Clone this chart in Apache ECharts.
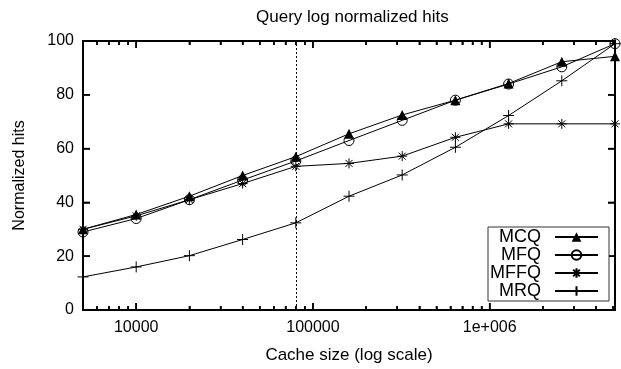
<!DOCTYPE html>
<html>
<head>
<meta charset="utf-8">
<script src="https://cdn.jsdelivr.net/npm/echarts@6/dist/echarts.min.js"></script>
<style>
html,body{margin:0;padding:0;background:#fff;}
#chart{width:621px;height:369px;}
</style>
</head>
<body>
<div id="chart"></div>
<script>
// ---- data ----
var cacheSizes = [5000, 10000, 20000, 40000, 80000, 160000, 320000, 640000, 1280000, 2560000, 5120000];
var mcq  = [30, 35.5, 42.3, 50, 57, 65.5, 72.5, 78, 84.2, 92.3, 94.3];
var mfq  = [29, 34, 41, 48.3, 55.4, 63, 70.5, 78, 84, 90.4, 99];
var mffq = [30, 35, 41, 47, 53.4, 54.5, 57.2, 64.2, 69.2, 69.2, 69.2];
var mrq  = [12.3, 16, 20.2, 26.2, 32.4, 42.3, 50.2, 60.5, 72.3, 85.2, 99];
var seriesNames = ['MCQ', 'MFQ', 'MFFQ', 'MRQ'];
var xMajorTicks = [10000, 100000, 1000000];
var xMajorLabels = ['10000', '100000', '1e+006'];
var xMinorTicks = [6000, 7000, 8000, 9000,
  20000, 30000, 40000, 50000, 60000, 70000, 80000, 90000,
  200000, 300000, 400000, 500000, 600000, 700000, 800000, 900000,
  2000000, 3000000, 4000000, 5000000];
var yTicks = [20, 40, 60, 80];
var markerSize = 80000;

var FONT = '"Liberation Sans", Arial, sans-serif';
var X_MIN = 5000, X_MAX = 5120000, Y_MIN = 0, Y_MAX = 100;
var MAJOR_LEN = 7, MINOR_LEN = 4;

function pairs(ys) {
  return cacheSizes.map(function (x, i) { return [x, ys[i]]; });
}

function xAxisDef(position, tickValues, tickLen, withLabels) {
  var ax = {
    type: 'log', logBase: 10, min: X_MIN, max: X_MAX, position: position,
    axisLine: { show: true, onZero: false, lineStyle: { color: '#000', width: 2 } },
    axisTick: { show: true, inside: true, length: tickLen, customValues: tickValues,
      lineStyle: { color: '#000', width: 1.5 } },
    splitLine: { show: false },
    minorTick: { show: false },
    axisLabel: { show: false }
  };
  if (withLabels) {
    ax.axisLabel = {
      show: true, customValues: xMajorTicks, margin: 10,
      fontFamily: FONT, fontSize: 16, color: '#000',
      formatter: function (v) {
        for (var i = 0; i < xMajorTicks.length; i++) {
          if (Math.abs(v - xMajorTicks[i]) / xMajorTicks[i] < 1e-6) return xMajorLabels[i];
        }
        return '';
      }
    };
    ax.name = 'Cache size (log scale)';
    ax.nameLocation = 'middle';
    ax.nameGap = 37;
    ax.nameTextStyle = { fontFamily: FONT, fontSize: 17, color: '#000' };
  }
  return ax;
}

function yAxisDef(position, withLabels) {
  var ax = {
    type: 'value', min: Y_MIN, max: Y_MAX, interval: 20, position: position,
    axisLine: { show: true, lineStyle: { color: '#000', width: 2 } },
    axisTick: { show: true, inside: true, length: MAJOR_LEN, lineStyle: { color: '#000', width: 1.5 } },
    splitLine: { show: false },
    axisLabel: { show: false }
  };
  if (withLabels) {
    ax.axisLabel = { show: true, margin: 9, fontFamily: FONT, fontSize: 16, color: '#000' };
    ax.name = 'Normalized hits';
    ax.nameLocation = 'middle';
    ax.nameGap = 55;
    ax.nameTextStyle = { fontFamily: FONT, fontSize: 16, color: '#000' };
  }
  return ax;
}

var plusPath = 'path://M5,0L5,10M0,5L10,5';
var starPath = 'path://M5,0L5,10M0,5L10,5M1.5,1.5L8.5,8.5M8.5,1.5L1.5,8.5';
var circlePath = 'path://M10,5A5,5,0,1,1,0,5A5,5,0,1,1,10,5Z';

function lineSeries(name, ys, symbol, size, filled) {
  return {
    name: name, type: 'line', xAxisIndex: 0, yAxisIndex: 0,
    data: pairs(ys),
    symbol: symbol, symbolSize: size, showAllSymbol: true,
    lineStyle: { color: '#000', width: 1 },
    itemStyle: filled ? { color: '#000' } : { color: 'transparent', borderColor: '#000', borderWidth: 1 },
    emphasis: { disabled: true },
    z: 3
  };
}

var series = [
  lineSeries(seriesNames[0], mcq, 'triangle', 10, true),
  lineSeries(seriesNames[1], mfq, circlePath, 10, false),
  lineSeries(seriesNames[2], mffq, starPath, 10, false),
  lineSeries(seriesNames[3], mrq, plusPath, 11, false)
];
series[0].markLine = {
  silent: true, symbol: ['none', 'none'], label: { show: false },
  lineStyle: { color: '#000', width: 1, type: [2, 2] },
  data: [{ xAxis: markerSize }]
};

// inward tick marks on all four borders, drawn through the axes' own scales
var tickStyle = { stroke: '#000', lineWidth: 1.5 };
var xTickData = xMajorTicks.map(function (v) { return [v, 1]; })
  .concat(xMinorTicks.map(function (v) { return [v, 0]; }));
series.push({
  type: 'custom', name: 'xticks', silent: true, clip: false, z: 5,
  xAxisIndex: 0, yAxisIndex: 0,
  data: xTickData,
  encode: { x: 0 },
  renderItem: function (params, api) {
    var v = api.value(0);
    var len = api.value(1) ? MAJOR_LEN : MINOR_LEN;
    var b = api.coord([v, Y_MIN]);
    var t = api.coord([v, Y_MAX]);
    return { type: 'group', children: [
      { type: 'line', shape: { x1: b[0], y1: b[1], x2: b[0], y2: b[1] - len }, style: tickStyle },
      { type: 'line', shape: { x1: t[0], y1: t[1], x2: t[0], y2: t[1] + len }, style: tickStyle }
    ] };
  }
});
series.push({
  type: 'custom', name: 'yticks', silent: true, clip: false, z: 5,
  xAxisIndex: 0, yAxisIndex: 0,
  data: yTicks.map(function (v) { return [X_MIN, v]; }),
  renderItem: function (params, api) {
    var v = api.value(1);
    var l = api.coord([X_MIN, v]);
    var r = api.coord([X_MAX, v]);
    return { type: 'group', children: [
      { type: 'line', shape: { x1: l[0], y1: l[1], x2: l[0] + MAJOR_LEN, y2: l[1] }, style: tickStyle },
      { type: 'line', shape: { x1: r[0], y1: r[1], x2: r[0] - MAJOR_LEN, y2: r[1] }, style: tickStyle }
    ] };
  }
});

var chart = echarts.init(document.getElementById('chart'), null, { renderer: 'canvas' });
chart.setOption({
  animation: false,
  backgroundColor: '#fff',
  title: {
    text: 'Query log normalized hits', left: 251, top: 4,
    textStyle: { fontFamily: FONT, fontSize: 17, fontWeight: 'normal', color: '#000' }
  },
  grid: { left: 83, right: 6, top: 41, bottom: 59, containLabel: false },
  xAxis: [
    xAxisDef('bottom', xMajorTicks, MAJOR_LEN, true),
    xAxisDef('bottom', xMinorTicks, MINOR_LEN, false),
    xAxisDef('top', xMajorTicks, MAJOR_LEN, false),
    xAxisDef('top', xMinorTicks, MINOR_LEN, false)
  ],
  yAxis: [yAxisDef('left', true), yAxisDef('right', false)],
  legend: {
    data: seriesNames, orient: 'vertical', left: 488, top: 227,
    align: 'right', itemWidth: 43, itemHeight: 12, itemGap: 0,
    padding: [1, 10, 1, 1],
    borderColor: '#333', borderWidth: 1, backgroundColor: '#fff',
    selectedMode: false, z: 10,
    textStyle: { fontFamily: FONT, fontSize: 18, color: '#000', width: 52, align: 'right',
      lineHeight: 18, padding: [0, 9, 0, 0] }
  },
  series: series
});
</script>
</body>
</html>
